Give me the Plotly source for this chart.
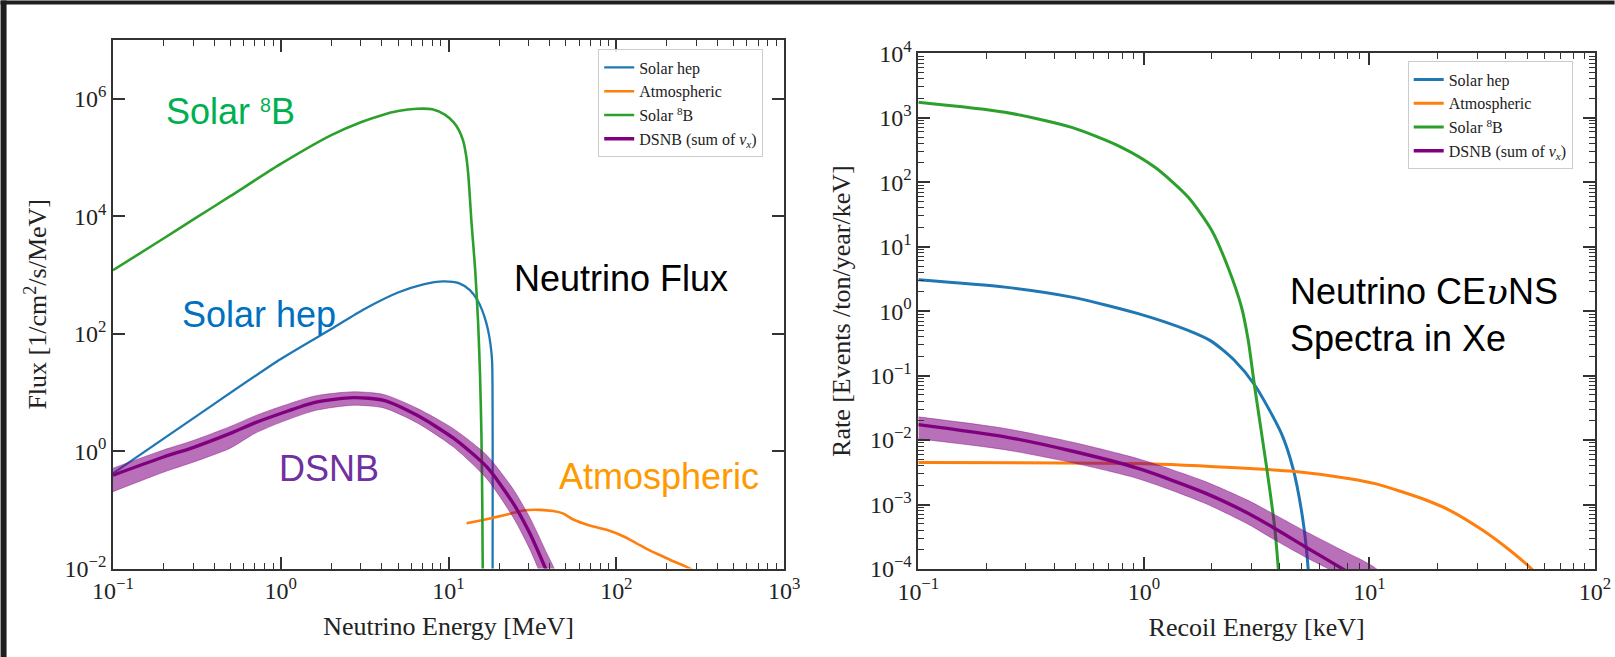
import plotly.graph_objects as go

# ---------------- Left panel: neutrino flux [1/cm^2/s/MeV] vs neutrino energy [MeV]
b8_energy = [0.1, 0.2, 0.3, 0.5, 1.0, 2.0, 3.0, 4.0, 5.0, 6.5, 8.0, 9.5, 10.7, 11.5, 12.2, 12.7,
             13.1, 13.7, 14.4, 15.0, 15.4, 15.7, 15.9, 16.0]
b8_flux = [1.20e3, 4.17e3, 8.71e3, 2.19e4, 7.76e4, 2.40e5, 3.98e5, 5.25e5, 6.17e5, 6.76e5, 6.61e5,
           5.37e5, 3.98e5, 2.95e5, 1.95e5, 1.12e5, 5.25e4, 7.94e3, 1.26e3, 1.58e2, 2.0e1, 2.0,
           1.0e-1, 6.3e-3]

hep_energy = [0.1, 0.316, 1.0, 2.0, 3.16, 5.0, 7.08, 9.33, 11.5, 13.4, 14.8, 15.85, 16.8, 17.5,
              17.99, 18.2, 18.28]
hep_flux = [0.417, 3.98, 37.0, 120.0, 263.0, 501.0, 692.0, 776.0, 724.0, 550.0, 380.0, 251.0,
            151.0, 89.1, 50.1, 31.6, 1e-3]

atm_energy = [12.8, 15.0, 19.4, 23.0, 27.9, 35.0, 42.0, 48.0, 55.0, 70.0, 87.5, 110.0, 132.0,
              160.0, 182.0, 220.0, 262.0, 300.0]
atm_flux = [0.0589, 0.0646, 0.0759, 0.0851, 0.0977, 0.100, 0.0955, 0.0871, 0.0692, 0.0537,
            0.0457, 0.0355, 0.0269, 0.0200, 0.0170, 0.0132, 0.0107, 0.0087]

dsnb_energy = [0.1, 0.2, 0.3, 0.5, 0.7, 1.0, 1.6, 2.7, 4.1, 6.5, 10.7, 16.9, 24.3, 30.5, 37.5, 45.0]
dsnb_flux = [0.389, 0.794, 1.15, 2.0, 3.02, 4.37, 6.76, 8.13, 7.33, 4.07, 1.66, 0.537, 0.129,
             0.0398, 0.0107, 0.0032]
dsnb_flux_hi = [0.513, 1.047, 1.514, 2.63, 3.98, 5.75, 8.71, 10.23, 9.23, 5.37, 2.40, 0.851,
                0.224, 0.0741, 0.0214, 0.0066]
dsnb_flux_lo = [0.204, 0.437, 0.646, 1.122, 2.0, 3.09, 4.90, 6.03, 5.43, 3.02, 1.175, 0.339,
                0.0741, 0.0214, 0.00537, 0.00151]

# ---------------- Right panel: CEvNS rate [events/ton/year/keV] vs recoil energy [keV]
b8_recoil = [0.1, 0.242, 0.479, 0.796, 1.12, 1.57, 2.0, 2.36, 2.71, 2.9, 3.10, 3.50, 3.80, 3.94, 4.0]
b8_rate = [1738.0, 1216.0, 708.0, 347.0, 170.0, 58.9, 17.8, 4.79, 1.148, 0.355, 0.0661, 0.0038,
           4.47e-4, 1.07e-4, 5e-5]

hep_recoil = [0.1, 0.242, 0.479, 0.944, 1.570, 1.995, 2.512, 3.105, 4.074, 4.592, 5.0, 5.26, 5.43]
hep_rate = [3.06, 2.355, 1.648, 0.912, 0.501, 0.339, 0.174, 0.0708, 0.0126, 3.55e-3, 7.94e-4,
            2.0e-4, 5.0e-5]

atm_recoil = [0.1, 0.944, 2.95, 4.59, 8.18, 10.72, 13.6, 17.8, 22.7, 31.8, 41.9, 51.3, 54.1]
atm_rate = [4.47e-3, 4.31e-3, 3.61e-3, 3.27e-3, 2.51e-3, 2.09e-3, 1.62e-3, 1.175e-3, 8.13e-4,
            3.98e-4, 1.95e-4, 1.07e-4, 8.9e-5]

dsnb_recoil = [0.1, 0.242, 0.479, 0.944, 1.862, 2.951, 3.681, 5.164, 7.379, 11.1]
dsnb_rate = [0.01738, 0.01122, 6.76e-3, 3.63e-3, 1.514e-3, 7.08e-4, 4.57e-4, 2.24e-4, 1.07e-4,
             4.47e-5]
dsnb_rate_hi = [0.02291, 0.01514, 9.33e-3, 5.13e-3, 2.29e-3, 1.122e-3, 7.41e-4, 3.89e-4,
                2.04e-4, 8.91e-5]
dsnb_rate_lo = [0.01047, 7.08e-3, 4.47e-3, 2.51e-3, 1.047e-3, 4.79e-4, 3.02e-4, 1.55e-4,
                8.13e-5, 3.39e-5]

series_names = ["Solar hep", "Atmospheric", "Solar <sup>8</sup>B", "DSNB (sum of <i>\u03bd<sub>x</sub></i>)"]

left_x_decades = [-1, 0, 1, 2, 3]
left_y_decades = [-2, 0, 2, 4, 6]
right_x_decades = [-1, 0, 1, 2]
right_y_decades = [-4, -3, -2, -1, 0, 1, 2, 3, 4]

C_HEP = "#1f77b4"
C_ATM = "#ff7f0e"
C_B8 = "#2ca02c"
C_DSNB = "#800080"
BAND = "rgba(128,0,128,0.56)"
SM = 0.7


def dec_label(k):
    return "10<sup>" + ("\u2212" + str(-k) if k < 0 else str(k)) + "</sup>"


def major_vals(decs):
    return [10.0 ** k for k in decs]


def minor_vals(decs):
    return [m * 10.0 ** k for k in decs[:-1] for m in range(2, 10)]


def line(color, width):
    return dict(color=color, width=width, shape="spline", smoothing=SM)


fig = go.Figure()

# ---- left panel traces
fig.add_trace(go.Scatter(x=hep_energy, y=hep_flux, mode="lines", name=series_names[0],
                         line=line(C_HEP, 2.3), xaxis="x", yaxis="y", legend="legend"))
fig.add_trace(go.Scatter(x=atm_energy, y=atm_flux, mode="lines", name=series_names[1],
                         line=line(C_ATM, 2.6), xaxis="x", yaxis="y", legend="legend"))
fig.add_trace(go.Scatter(x=b8_energy, y=b8_flux, mode="lines", name=series_names[2],
                         line=line(C_B8, 2.6), xaxis="x", yaxis="y", legend="legend"))
fig.add_trace(go.Scatter(x=dsnb_energy + dsnb_energy[::-1], y=dsnb_flux_hi + dsnb_flux_lo[::-1],
                         mode="lines", fill="toself", fillcolor=BAND,
                         line=dict(color="rgba(128,0,128,0.5)", width=0.8, shape="spline", smoothing=SM),
                         showlegend=False, hoverinfo="skip", xaxis="x", yaxis="y"))
fig.add_trace(go.Scatter(x=dsnb_energy, y=dsnb_flux, mode="lines", name=series_names[3],
                         line=line(C_DSNB, 3.4), xaxis="x", yaxis="y", legend="legend"))

# ---- right panel traces
fig.add_trace(go.Scatter(x=hep_recoil, y=hep_rate, mode="lines", name=series_names[0],
                         line=line(C_HEP, 3), xaxis="x2", yaxis="y2", legend="legend2"))
fig.add_trace(go.Scatter(x=atm_recoil, y=atm_rate, mode="lines", name=series_names[1],
                         line=line(C_ATM, 3), xaxis="x2", yaxis="y2", legend="legend2"))
fig.add_trace(go.Scatter(x=b8_recoil, y=b8_rate, mode="lines", name=series_names[2],
                         line=line(C_B8, 3), xaxis="x2", yaxis="y2", legend="legend2"))
fig.add_trace(go.Scatter(x=dsnb_recoil + dsnb_recoil[::-1], y=dsnb_rate_hi + dsnb_rate_lo[::-1],
                         mode="lines", fill="toself", fillcolor=BAND,
                         line=dict(color="rgba(128,0,128,0.5)", width=0.8, shape="spline", smoothing=SM),
                         showlegend=False, hoverinfo="skip", xaxis="x2", yaxis="y2"))
fig.add_trace(go.Scatter(x=dsnb_recoil, y=dsnb_rate, mode="lines", name=series_names[3],
                         line=line(C_DSNB, 3.4), xaxis="x2", yaxis="y2", legend="legend2"))

# empty helper traces so the minor-tick overlay axes are drawn (own subplots, no shared axes)
fig.add_trace(go.Scatter(x=[], y=[], xaxis="x3", yaxis="y4", showlegend=False, hoverinfo="skip"))
fig.add_trace(go.Scatter(x=[], y=[], xaxis="x4", yaxis="y3", showlegend=False, hoverinfo="skip"))

AX = "#333333"
TICKFONT = dict(family="Liberation Serif", size=24, color="#222222")
TITLEFONT = dict(family="Liberation Serif", size=26, color="#222222")


def axis(decs, rng, domain, title, anchor, standoff=10):
    return dict(type="log", range=rng, domain=domain, anchor=anchor,
                tickmode="array", tickvals=major_vals(decs), ticktext=[dec_label(k) for k in decs],
                ticks="inside", ticklen=12, tickwidth=1.6, tickcolor=AX,
                showline=True, linecolor=AX, linewidth=1.5, mirror="ticks",
                showgrid=False, zeroline=False, tickfont=TICKFONT,
                title=dict(text=title, font=TITLEFONT, standoff=standoff),
                automargin=False)


def minor_axis(decs, rng, overlaying, anchor, side):
    return dict(type="log", range=rng, overlaying=overlaying, anchor=anchor, side=side,
                tickmode="array", tickvals=minor_vals(decs), showticklabels=False,
                ticks="inside", ticklen=6, tickwidth=1.2, tickcolor=AX,
                showline=True, linecolor=AX, linewidth=1.5, mirror="ticks",
                showgrid=False, zeroline=False, automargin=False)


W, H = 1615, 657
ML, MR, MT, MB = 112.5, 19.6, 39.5, 88.3
PW, PH = W - ML - MR, H - MT - MB

fig.update_layout(
    width=W, height=H, autosize=False,
    margin=dict(l=ML, r=MR, t=MT, b=MB, pad=0),
    paper_bgcolor="white", plot_bgcolor="white",
    font=dict(family="Liberation Serif", color="#222222"),
    xaxis=axis(left_x_decades, [-1, 3], [0, (784 - ML) / PW], "Neutrino Energy [MeV]", "y", standoff=14),
    yaxis=axis(left_y_decades, [-2, 7], [0.0008, 1], "Flux [1/cm<sup>2</sup>/s/MeV]", "x", standoff=10),
    xaxis2=axis(right_x_decades, [-1, 2], [(918.3 - ML) / PW, 1], "Recoil Energy [keV]", "y2", standoff=14),
    yaxis2=axis(right_y_decades, [-4, 4], [0, (568.7 - 52.7) / PH], "Rate [Events /ton/year/keV]", "x2", standoff=12),
    xaxis3=minor_axis(left_x_decades, [-1, 3], "x", "y4", "bottom"),
    yaxis4=dict(type="log", range=[-2, 7], overlaying="y", anchor="x3", side="left",
                showticklabels=False, ticks="", showline=False, showgrid=False, zeroline=False,
                automargin=False),
    xaxis4=minor_axis(right_x_decades, [-1, 2], "x2", "y3", "bottom"),
    yaxis3=minor_axis(right_y_decades, [-4, 4], "y2", "x4", "left"),
    legend=dict(x=(598 - ML) / PW, y=(H - MB - 49) / PH, xanchor="left", yanchor="top",
                bgcolor="rgba(255,255,255,0.85)", bordercolor="#cccccc", borderwidth=1,
                font=dict(family="Liberation Serif", size=16, color="#222222"), itemwidth=30,
                tracegroupgap=0),
    legend2=dict(x=(1408 - ML) / PW, y=(H - MB - 61) / PH, xanchor="left", yanchor="top",
                 bgcolor="rgba(255,255,255,0.85)", bordercolor="#cccccc", borderwidth=1,
                 font=dict(family="Liberation Serif", size=16, color="#222222"), itemwidth=30,
                 tracegroupgap=0),
    showlegend=True,
)

ANN = "Liberation Sans"
UPS = "<span style=\"font-family:'DejaVu Serif';font-style:italic\">\u03c5</span>"
SUP8 = "<span style=\"font-size:28px\"><sup>8</sup></span>"
annotations = [
    dict(text="Solar " + SUP8 + "B", x=-0.698, y=5.784, xref="x", yref="y", color="#00b050"),
    dict(text="Solar hep", x=-0.598, y=2.32, xref="x", yref="y", color="#0070c0"),
    dict(text="Neutrino Flux", x=1.376, y=2.941, xref="x", yref="y", color="#000000"),
    dict(text="DSNB", x=-0.0226, y=-0.298, xref="x", yref="y", color="#7030a0"),
    dict(text="Atmospheric", x=1.644, y=-0.434, xref="x", yref="y", color="#ff9900"),
    dict(text="Neutrino CE" + UPS + "NS<br>Spectra in Xe", x=0.639, y=-0.06, xref="x2", yref="y2",
         color="#000000"),
]
for a in annotations:
    fig.add_annotation(text=a["text"], x=a["x"], y=a["y"], xref=a["xref"], yref=a["yref"],
                       xanchor="left", yanchor="middle", align="left", showarrow=False,
                       font=dict(family=ANN, size=36, color=a["color"]))

# dark screenshot frame strips (top and left edges)
fig.add_shape(type="rect", xref="paper", yref="paper", x0=-ML / PW, x1=(6 - ML) / PW,
              y0=-MB / PH, y1=(H - MB) / PH, fillcolor="#1f1f1f", line=dict(width=0), layer="above")
fig.add_shape(type="rect", xref="paper", yref="paper", x0=-ML / PW, x1=(W - ML) / PW,
              y0=(H - MB - 4) / PH, y1=(H - MB) / PH, fillcolor="#1f1f1f", line=dict(width=0), layer="above")

fig.write_html(
    "out.html",
    post_script="document.body.style.margin='0';document.body.style.overflow='hidden';"
                "document.documentElement.style.overflow='hidden';",
)
